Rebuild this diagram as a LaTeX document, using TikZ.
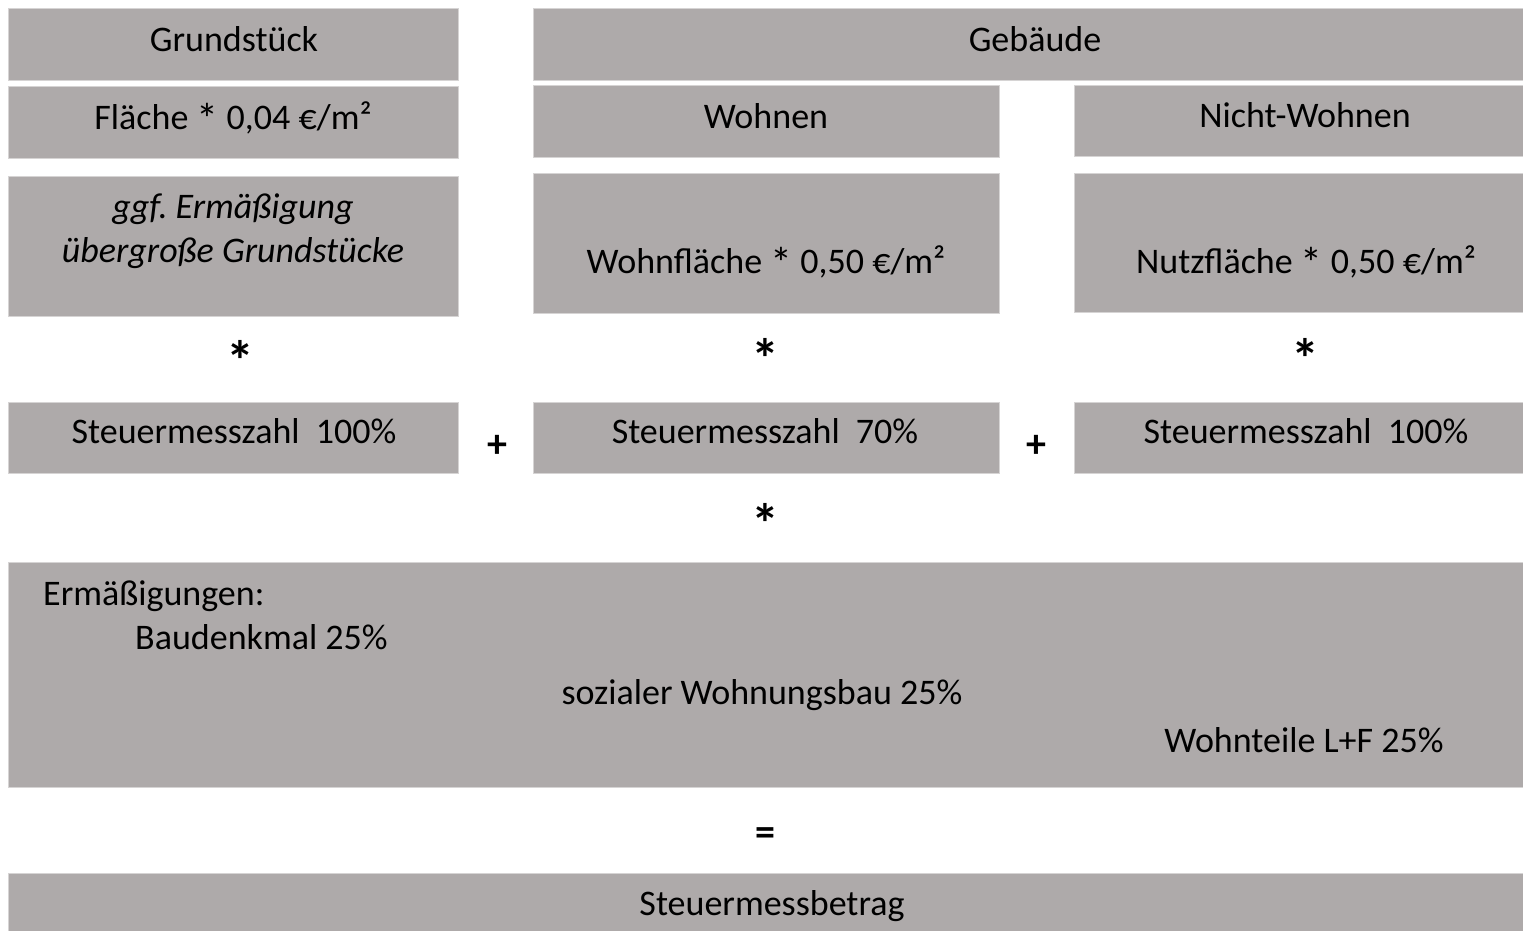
\documentclass[tikz,border=0pt]{standalone}
\usepackage{fontspec}
\setmainfont{Carlito}
\definecolor{boxgray}{HTML}{AEAAAA}
\definecolor{boxedge}{HTML}{D6D4D4}
\newcommand{\inast}{{\fontsize{44}{44}\selectfont\raisebox{-0.12em}{*}}}
\begin{document}
\begin{tikzpicture}[x=1pt,y=-1pt,
  gbox/.style={fill=boxgray,draw=boxedge,line width=0.8pt,inner sep=0pt,anchor=north west},
  txt/.style={inner sep=0pt,anchor=base,font=\fontsize{36}{44}\selectfont\frenchspacing,text=black},
  ast/.style={inner sep=0pt,anchor=base,font=\fontsize{56}{60}\selectfont\bfseries,text=black},
  sym/.style={inner sep=0pt,anchor=base,font=\fontsize{40}{44}\selectfont\bfseries,text=black}]
\useasboundingbox (0,0) rectangle (1523,930);
% boxes
\node[gbox,minimum width=450pt,minimum height=72pt] (grund) at (8,8) {};
\node[gbox,minimum width=450pt,minimum height=72pt] (flaeche) at (8,86) {};
\node[gbox,minimum width=450pt,minimum height=140pt] (ggf) at (8,176) {};
\node[gbox,minimum width=1000pt,minimum height=72pt] (geb) at (533,8) {};
\node[gbox,minimum width=466pt,minimum height=72pt] (wohnen) at (533,85) {};
\node[gbox,minimum width=470pt,minimum height=71pt] (nwohnen) at (1074,85) {};
\node[gbox,minimum width=466pt,minimum height=140pt] (wfl) at (533,173) {};
\node[gbox,minimum width=470pt,minimum height=139pt] (nfl) at (1074,173) {};
\node[gbox,minimum width=450pt,minimum height=71pt] (smzL) at (8,402) {};
\node[gbox,minimum width=466pt,minimum height=71pt] (smzM) at (533,402) {};
\node[gbox,minimum width=470pt,minimum height=71pt] (smzR) at (1074,402) {};
\node[gbox,minimum width=1530pt,minimum height=225pt] (erm) at (8,562) {};
\node[gbox,minimum width=1530pt,minimum height=80pt] (smb) at (8,873) {};
% texts
\node[txt] (tgrund) at (234,51) {Grundstück};
\node[txt] (tflaeche) at (233,129) {Fläche \inast{} 0,04 €/m²};
\node[txt,font=\fontsize{36}{44}\selectfont\itshape\frenchspacing] (tggf1) at (233,218) {ggf. Ermäßigung};
\node[txt,font=\fontsize{36}{44}\selectfont\itshape] (tggf2) at (233,262) {übergroße Grundstücke};
\node[txt] (tgeb) at (1035,51) {Gebäude};
\node[txt] (twohnen) at (766,128) {Wohnen};
\node[txt] (tnwohnen) at (1305,127) {Nicht-Wohnen};
\node[txt] (twfl) at (766,273) {Wohnfläche \inast{} 0,50 €/m²};
\node[txt] (tnfl) at (1306,273) {Nutzfläche \inast{} 0,50 €/m²};
\node[txt] (tsmzL) at (234,443) {Steuermesszahl\hspace{0.45em}100\%};
\node[txt] (tsmzM) at (765,443) {Steuermesszahl\hspace{0.45em}70\%};
\node[txt] (tsmzR) at (1306,443) {Steuermesszahl\hspace{0.45em}100\%};
\node[txt,anchor=base west] (term) at (43,605) {Ermäßigungen:};
\node[txt,anchor=base west] (tbau) at (135,649) {Baudenkmal 25\%};
\node[txt] (tsoz) at (762,704) {sozialer Wohnungsbau 25\%};
\node[txt] (tlf) at (1304,752) {Wohnteile L+F 25\%};
\node[txt] (tsmb) at (772,915) {Steuermessbetrag};
% operators
\node[ast] (s1) at (240,380) {*};
\node[ast] (s2) at (765,378) {*};
\node[ast] (s3) at (1305,378) {*};
\node[sym] (p1) at (497,457) {+};
\node[sym] (p2) at (1036,457) {+};
\node[ast] (s4) at (765,543) {*};
\node[sym] (eq) at (765,845) {=};
\end{tikzpicture}
\end{document}
